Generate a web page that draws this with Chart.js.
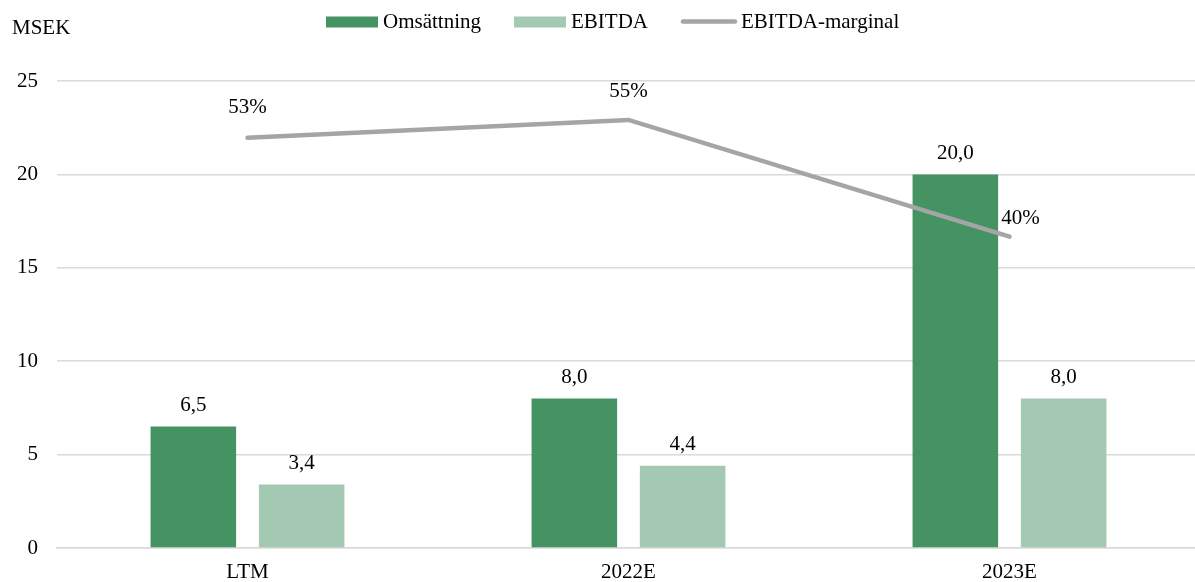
<!DOCTYPE html>
<html>
<head>
<meta charset="utf-8">
<script src="https://cdn.jsdelivr.net/npm/chart.js@4/dist/chart.umd.min.js"></script>
<style>
  html, body { margin: 0; padding: 0; background: #fff; overflow: hidden; }
  canvas { display: block; }
</style>
</head>
<body>
<canvas id="c" width="1200" height="582"></canvas>
<script>
// ---- Data ----
const categories = ['LTM', '2022E', '2023E'];
const omsattning = [6.5, 8.0, 20.0];
const ebitda = [3.4, 4.4, 8.0];
const ebitdaMarginal = [0.527, 0.55, 0.40];
const yMin = 0, yMax = 25, yStep = 5;
const yUnit = 'MSEK';
const seriesNames = ['Omsättning', 'EBITDA', 'EBITDA-marginal'];

// ---- Styles ----
const FONT = '"Liberation Serif", "Times New Roman", serif';
const FS = 21;
const DARK = '#459263';
const LIGHT = '#A3C9B2';
const GRAY = '#A5A5A5';
const GRID = '#D9D9D9';
const TXT = '#000000';
// line label offsets (dx, dy) from the point
const lineLabelOffsets = [[0, -30], [0, -28], [11, -18]];

const fmtNum = v => v.toFixed(1).replace('.', ',');
const fmtPct = v => Math.round(v * 100) + '%';

const labelPlugin = {
  id: 'labels',
  afterDatasetsDraw(chart) {
    const ctx = chart.ctx;
    ctx.save();
    ctx.font = FS + 'px ' + FONT;
    ctx.fillStyle = TXT;
    ctx.textAlign = 'center';
    ctx.textBaseline = 'middle';
    chart.data.datasets.forEach((ds, di) => {
      const meta = chart.getDatasetMeta(di);
      meta.data.forEach((el, i) => {
        const v = ds.data[i];
        if (ds.type === 'line') {
          const o = lineLabelOffsets[i] || [0, -28];
          ctx.fillText(fmtPct(v), el.x + o[0], el.y + o[1]);
        } else {
          ctx.fillText(fmtNum(v), el.x, el.y - 21);
        }
      });
    });
    ctx.restore();
  },
  afterDraw(chart) {
    const ctx = chart.ctx;
    ctx.save();
    ctx.font = FS + 'px ' + FONT;
    ctx.fillStyle = TXT;
    ctx.textBaseline = 'middle';
    ctx.textAlign = 'left';
    // unit label
    ctx.fillText(yUnit, 12, 28);
    // legend
    let x = 326;
    const y = 22;
    const items = [
      { text: seriesNames[0], kind: 'box', color: DARK },
      { text: seriesNames[1], kind: 'box', color: LIGHT },
      { text: seriesNames[2], kind: 'line', color: GRAY }
    ];
    items.forEach(it => {
      if (it.kind === 'box') {
        ctx.fillStyle = it.color;
        ctx.fillRect(x, y - 5.5, 52, 11);
      } else {
        ctx.strokeStyle = it.color;
        ctx.lineWidth = 4.5;
        ctx.lineCap = 'round';
        ctx.beginPath();
        ctx.moveTo(x + 2, y - 0.5);
        ctx.lineTo(x + 54, y - 0.5);
        ctx.stroke();
      }
      ctx.fillStyle = TXT;
      ctx.fillText(it.text, x + (it.kind === 'line' ? 60 : 57), y);
      x += 57 + ctx.measureText(it.text).width + 33;
    });
    ctx.restore();
  }
};

new Chart(document.getElementById('c'), {
  data: {
    labels: categories,
    datasets: [
      {
        type: 'line',
        label: seriesNames[2],
        data: ebitdaMarginal,
        yAxisID: 'y2',
        borderColor: GRAY,
        borderWidth: 4.5,
        borderCapStyle: 'round',
        borderJoinStyle: 'miter',
        pointRadius: 0,
        tension: 0,
        order: 0
      },
      {
        type: 'bar',
        label: seriesNames[0],
        data: omsattning,
        backgroundColor: DARK,
        yAxisID: 'y',
        categoryPercentage: 0.5685,
        barPercentage: 0.79,
        order: 1
      },
      {
        type: 'bar',
        label: seriesNames[1],
        data: ebitda,
        backgroundColor: LIGHT,
        yAxisID: 'y',
        categoryPercentage: 0.5685,
        barPercentage: 0.79,
        order: 1
      }
    ]
  },
  options: {
    responsive: false,
    animation: false,
    devicePixelRatio: 1,
    layout: { padding: { top: 81, left: 0, right: 0, bottom: 0 } },
    plugins: { legend: { display: false }, tooltip: { enabled: false } },
    scales: {
      x: {
        grid: { display: false, drawTicks: false },
        border: { display: true, color: GRID, width: 1.5 },
        ticks: { color: TXT, font: { family: FONT, size: FS }, padding: 12 },
        afterFit(s) { s.height = 34; }
      },
      y: {
        min: yMin, max: yMax,
        ticks: { stepSize: yStep, color: TXT, font: { family: FONT, size: FS }, padding: 19 },
        grid: { color: GRID, lineWidth: 1.5, drawTicks: false },
        border: { display: false },
        afterFit(s) { s.width = 57; }
      },
      y2: {
        display: false,
        min: 0, max: 0.6
      }
    }
  },
  plugins: [labelPlugin]
});
</script>
</body>
</html>
